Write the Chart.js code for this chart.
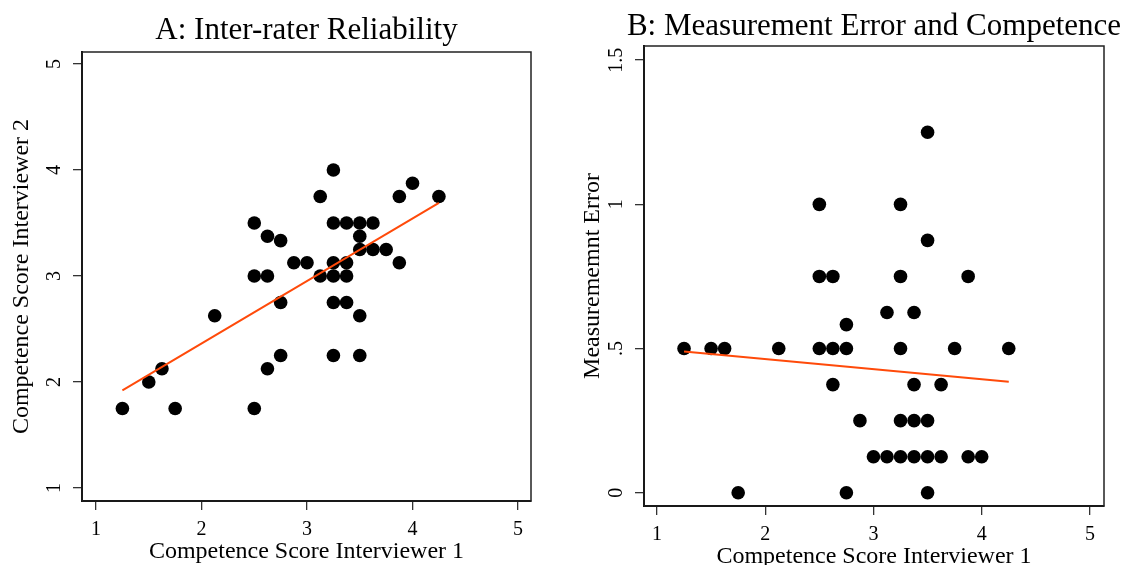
<!DOCTYPE html>
<html>
<head>
<meta charset="utf-8">
<title>Inter-rater reliability and measurement error</title>
<script src="https://cdn.jsdelivr.net/npm/chart.js@4.4.0/dist/chart.umd.min.js"></script>
<style>
  html, body { margin: 0; padding: 0; background: #fff; }
  #wrap { position: relative; width: 1126px; height: 565px; overflow: hidden; }
  canvas { position: absolute; top: 0; }
  #cA { left: 0; }
  #cB { left: 560px; }
</style>
</head>
<body>
<div id="wrap">
  <canvas id="cA" width="560" height="565"></canvas>
  <canvas id="cB" width="566" height="565"></canvas>
</div>
<script>
(function () {
  "use strict";

  // ---- values ----
  // panel A: competence score, interviewer 1 (x) vs interviewer 2 (y)
  var A_X = [3.25, 4.0, 3.125, 3.875, 4.25, 2.5, 3.25, 3.375, 3.5, 3.625,
    2.625, 2.75, 3.5, 3.5, 3.625, 3.75, 2.875, 3.0, 3.25, 3.375,
    3.875, 2.5, 2.625, 3.125, 3.25, 3.375, 2.75, 3.25, 3.375, 3.5,
    2.125, 2.75, 3.25, 3.5, 2.625, 1.625, 1.5, 1.25, 1.75, 2.5];
  var A_Y = [4.0, 3.875, 3.75, 3.75, 3.75, 3.5, 3.5, 3.5, 3.5, 3.5,
    3.375, 3.333, 3.375, 3.25, 3.25, 3.25, 3.125, 3.125, 3.125, 3.125,
    3.125, 3.0, 3.0, 3.0, 3.0, 3.0, 2.75, 2.75, 2.75, 2.625,
    2.625, 2.25, 2.25, 2.25, 2.125, 2.125, 2.0, 1.75, 1.75, 1.75];

  // panel B: interviewer 1 score (x) vs measurement error (y)
  var B_X = [3.5, 2.5, 3.25, 3.5, 2.5, 2.625, 3.25, 3.875, 3.125, 3.375,
    2.75, 1.25, 1.5, 1.625, 2.125, 2.5, 2.625, 2.75, 3.25, 3.75,
    4.25, 2.625, 3.375, 3.625, 2.875, 3.25, 3.375, 3.5, 3.0, 3.125,
    3.25, 3.375, 3.5, 3.625, 3.875, 4.0, 1.75, 2.75, 3.5];
  var B_Y = [1.25, 1.0, 1.0, 0.875, 0.75, 0.75, 0.75, 0.75, 0.625, 0.625,
    0.583, 0.5, 0.5, 0.5, 0.5, 0.5, 0.5, 0.5, 0.5, 0.5,
    0.5, 0.375, 0.375, 0.375, 0.25, 0.25, 0.25, 0.25, 0.125, 0.125,
    0.125, 0.125, 0.125, 0.125, 0.125, 0.125, 0, 0, 0];

  // linear fit end points
  var FIT_X = [1.25, 4.25];
  var FIT_A = [1.92, 3.69];
  var FIT_B = [0.49, 0.385];

  // ticks
  var X_TICKS = [1, 2, 3, 4, 5];
  var A_TICKS = [1, 2, 3, 4, 5];
  var A_TICK_LABELS = ["1", "2", "3", "4", "5"];
  var B_TICKS = [0, 0.5, 1, 1.5];
  var B_TICK_LABELS = ["0", ".5", "1", "1.5"];

  var SERIF = "'Liberation Serif', 'Times New Roman', serif";
  var FIT_COLOR = "#FF4A0A";

  Chart.defaults.font.family = SERIF;
  Chart.defaults.color = "#000";

  function pairs(xs, ys) {
    return xs.map(function (x, i) { return { x: x, y: ys[i] }; });
  }
  function fixTicks(vals) {
    return function (s) { s.ticks = vals.map(function (v) { return { value: v }; }); };
  }

  // box round the plot region + panel title (centred on the plot, not squeezed)
  var frame = {
    id: "frame",
    beforeDatasetsDraw: function (chart, args, o) {
      var a = chart.chartArea, ctx = chart.ctx;
      ctx.save();
      ctx.strokeStyle = "#222";
      ctx.lineWidth = 1.5;
      ctx.strokeRect(a.left, a.top, a.right - a.left, a.bottom - a.top);
      ctx.fillStyle = "#000";
      ctx.font = "31px " + SERIF;
      ctx.textAlign = "center";
      ctx.textBaseline = "alphabetic";
      ctx.fillText(o.text, (a.left + a.right) / 2, o.baseline);
      ctx.restore();
    }
  };

  function panel(id, p) {
    new Chart(document.getElementById(id), {
      type: "scatter",
      data: {
        datasets: [
          { type: "line", data: pairs(FIT_X, p.fit), borderColor: FIT_COLOR, borderWidth: 2,
            pointRadius: 0, showLine: true, fill: false, tension: 0 },
          { data: pairs(p.xs, p.ys), backgroundColor: "#000", borderColor: "#000", borderWidth: 0,
            pointRadius: 6.8, pointHoverRadius: 6.8 }
        ]
      },
      options: {
        responsive: false, animation: false, devicePixelRatio: 1,
        layout: { padding: { top: p.top, right: p.right, left: 0, bottom: 0 } },
        plugins: {
          legend: { display: false }, tooltip: { enabled: false },
          frame: { text: p.title, baseline: p.titleBase }
        },
        scales: {
          x: {
            type: "linear", position: "bottom", min: p.xMin, max: p.xMax,
            afterBuildTicks: fixTicks(X_TICKS),
            afterFit: function (s) { s.height = p.xH; },
            grid: { drawOnChartArea: false, drawTicks: true, tickLength: 9, color: "#333", lineWidth: 1.3 },
            border: { display: true, color: "#000", width: 2 },
            ticks: { padding: 8, font: { size: 20 }, color: "#000", maxRotation: 0, autoSkip: false },
            title: { display: true, text: "Competence Score Interviewer 1", color: "#000",
              font: { size: 24, lineHeight: 1.2 }, padding: { top: 0, bottom: p.xTitlePad } }
          },
          y: {
            type: "linear", position: "left", min: p.yMin, max: p.yMax,
            afterBuildTicks: fixTicks(p.yTicks),
            afterFit: function (s) { s.width = p.yW; },
            grid: { drawOnChartArea: false, drawTicks: true, tickLength: 9, color: "#333", lineWidth: 1.3 },
            border: { display: true, color: "#000", width: 2 },
            ticks: { padding: p.yTickPad, font: { size: 20 }, color: "#000", minRotation: 90, maxRotation: 90,
              crossAlign: "center", autoSkip: false,
              callback: function (v, i) { return p.yLabels[i]; } },
            title: { display: true, text: p.yTitle, color: "#000",
              font: { size: 24, lineHeight: 1.2 }, padding: { top: p.yTitlePad, bottom: 0 } }
          }
        }
      },
      plugins: [frame]
    });
  }

  panel("cA", {
    xs: A_X, ys: A_Y, fit: FIT_A,
    title: "A: Inter-rater Reliability", titleBase: 39,
    yTitle: "Competence Score Interviewer 2",
    yTicks: A_TICKS, yLabels: A_TICK_LABELS,
    xMin: 0.867, xMax: 5.123, yMin: 0.877, yMax: 5.113,
    top: 52, right: 29, yW: 82, xH: 64,
    yTickPad: 13, yTitlePad: 7.6, xTitlePad: -1
  });

  panel("cB", {
    xs: B_X, ys: B_Y, fit: FIT_B,
    title: "B: Measurement Error and Competence", titleBase: 35,
    yTitle: "Measurememnt Error",
    yTicks: B_TICKS, yLabels: B_TICK_LABELS,
    xMin: 0.88, xMax: 5.13, yMin: -0.046, yMax: 1.549,
    top: 46, right: 22, yW: 84, xH: 59,
    yTickPad: 5.5, yTitlePad: 18.6, xTitlePad: -6
  });
})();
</script>
</body>
</html>
